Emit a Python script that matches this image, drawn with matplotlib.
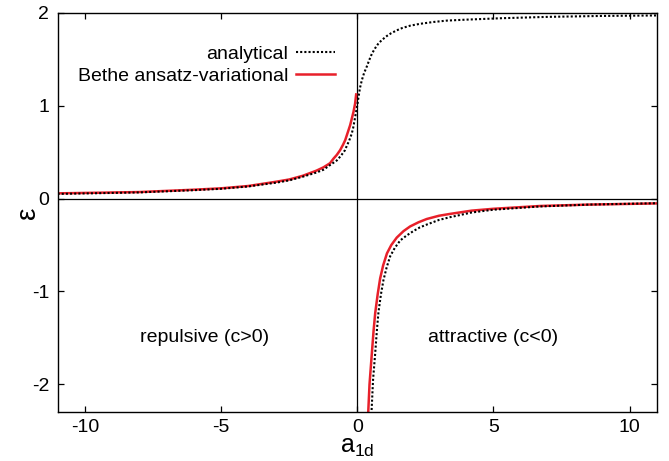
import matplotlib
matplotlib.use('Agg')
import matplotlib.pyplot as plt

# analytical curve, upper branch (continuous through a_1d = 0)
a_up = [-11, -9.44, -8, -6, -5, -4, -3, -2.5, -2, -1.5, -1.24, -1, -0.75, -0.6,
        -0.45, -0.38, -0.3, -0.2, -0.15, -0.1, -0.05, 0, 0.04, 0.1, 0.17, 0.25,
        0.35, 0.44, 0.54, 0.65, 0.78, 0.92, 1.09, 1.25, 1.45, 1.65, 1.94, 2.3,
        2.8, 3.3, 4.0, 5.25, 7, 9, 11]
eps_up = [0.05, 0.058, 0.066, 0.09, 0.105, 0.13, 0.17, 0.195, 0.235, 0.28, 0.31,
          0.36, 0.41, 0.46, 0.52, 0.57, 0.62, 0.70, 0.76, 0.84, 0.92, 1.0, 1.08,
          1.19, 1.275, 1.35, 1.42, 1.49, 1.56, 1.615, 1.67, 1.71, 1.75, 1.78,
          1.81, 1.835, 1.86, 1.88, 1.90, 1.915, 1.925, 1.94, 1.955, 1.965, 1.97]

# analytical curve, bound-state branch
a_low = [0.52, 0.58, 0.66, 0.72, 0.78, 0.87, 0.96, 1.08, 1.21, 1.38, 1.58, 1.8,
         2.06, 2.3, 2.55, 3.0, 3.41, 4.2, 5.0, 6.71, 8.5, 11]
eps_low = [-2.32, -1.95, -1.66, -1.42, -1.22, -1.03, -0.88, -0.74, -0.62, -0.53,
           -0.45, -0.40, -0.35, -0.31, -0.28, -0.23, -0.20, -0.15, -0.12, -0.085,
           -0.065, -0.05]

# Bethe ansatz-variational, repulsive side
a_rep = [-11, -9.44, -8, -6, -5, -4, -3, -2.5, -2, -1.5, -1.24, -1, -0.87, -0.75,
         -0.63, -0.52, -0.44, -0.35, -0.26, -0.2, -0.14, -0.08, -0.04]
eps_rep = [0.056, 0.063, 0.07, 0.095, 0.11, 0.135, 0.18, 0.205, 0.245, 0.30, 0.336,
           0.38, 0.43, 0.47, 0.52, 0.58, 0.63, 0.71, 0.79, 0.86, 0.93, 1.02, 1.12]

# Bethe ansatz-variational, attractive side
a_att = [0.40, 0.45, 0.54, 0.60, 0.66, 0.75, 0.84, 0.95, 1.09, 1.25, 1.45, 1.7,
         1.94, 2.25, 2.55, 3.0, 3.41, 4.2, 5.0, 6.71, 8.5, 11]
eps_att = [-2.32, -2.0, -1.65, -1.42, -1.23, -1.03, -0.86, -0.72, -0.59, -0.50,
           -0.42, -0.35, -0.30, -0.255, -0.22, -0.185, -0.165, -0.13, -0.11,
           -0.08, -0.065, -0.052]

plt.rcParams['font.family'] = ['Liberation Sans', 'DejaVu Sans']
plt.rcParams['mathtext.fontset'] = 'custom'
plt.rcParams['mathtext.rm'] = 'Liberation Sans'
plt.rcParams['mathtext.it'] = 'Liberation Sans'
plt.rcParams['axes.unicode_minus'] = False

red = '#e8202a'

fig = plt.figure(figsize=(6.69, 4.61), dpi=100)
ax = fig.add_axes([0.086, 0.1056, 0.896, 0.8669])

ax.axhline(0, color='black', lw=0.9)
ax.axvline(0, color='black', lw=0.9)

ax.plot(a_up, eps_up, color='black', lw=1.5, linestyle=(0, (1, 1)),
        dash_capstyle='butt', label='analytical', zorder=3)
ax.plot(a_low, eps_low, color='black', lw=1.5, linestyle=(0, (1, 1)),
        dash_capstyle='butt', zorder=3)
ax.plot(a_rep, eps_rep, color=red, lw=1.8, label='Bethe ansatz-variational', zorder=2)
ax.plot(a_att, eps_att, color=red, lw=1.8, zorder=2)

ax.set_xlim(-11, 11)
ax.set_ylim(-2.3, 2)
ax.set_xticks([-10, -5, 0, 5, 10])
ax.set_yticks([-2, -1, 0, 1, 2])
ax.tick_params(direction='in', top=True, right=True, length=4, width=0.9,
               labelsize=14, pad=6)
ax.tick_params(axis='x', pad=5)
for s in ax.spines.values():
    s.set_linewidth(1.0)

ax.set_xlabel(r'$\mathregular{a_{1d}}$', fontsize=18, labelpad=-1)
ax.set_ylabel('ε', fontsize=20)
ax.yaxis.set_label_coords(-0.028, 0.5)

ax.text(-5.59, -1.5, 'repulsive (c>0)', fontsize=14, ha='center', va='center')
ax.text(5.0, -1.5, 'attractive (c<0)', fontsize=14, ha='center', va='center')

ax.legend(loc='upper right', bbox_to_anchor=(0.463, 0.918), frameon=False,
          markerfirst=False, fontsize=14, handlelength=2.0, handletextpad=0.4,
          labelspacing=0.2, borderpad=0, borderaxespad=0)

fig.savefig('out.png', dpi=100)
